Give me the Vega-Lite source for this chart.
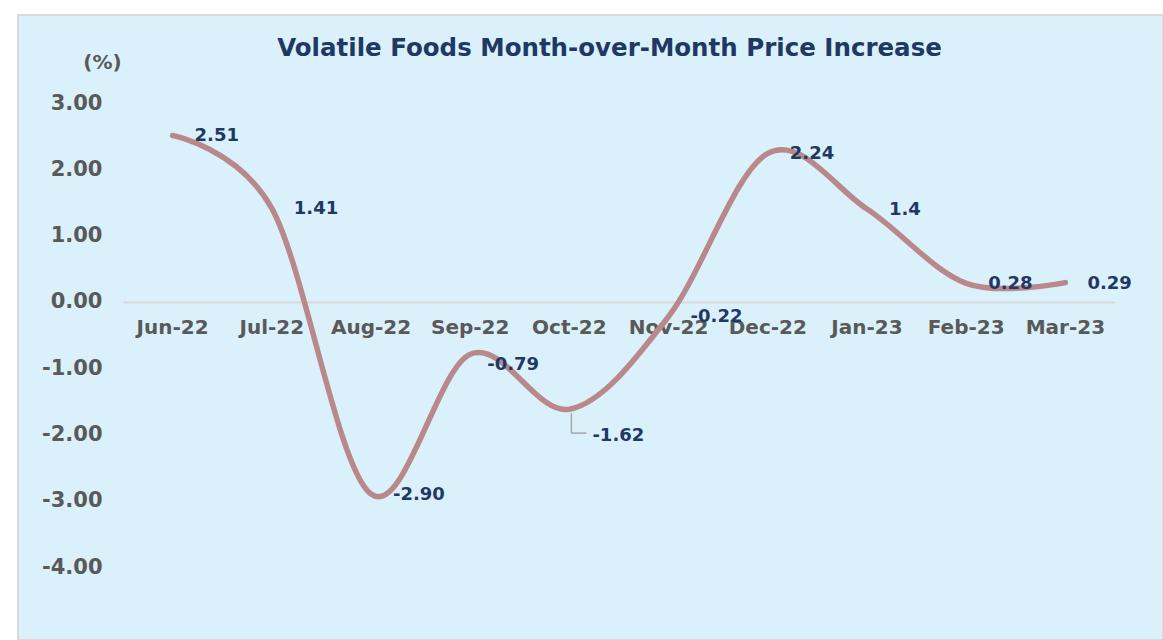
{
  "$schema": "https://vega.github.io/schema/vega-lite/v6.json",
  "autosize": {"type": "none"},
  "width": 1145,
  "height": 625,
  "padding": {"left": 18, "top": 15, "right": 0, "bottom": 0},
  "background": "#ffffff",
  "config": {
    "view": {"fill": "#daf1fc", "stroke": "#d9d9d9", "strokeWidth": 2},
    "font": "DejaVu Sans"
  },
  "title": {
    "text": "Volatile Foods Month-over-Month Price Increase",
    "font": "DejaVu Sans",
    "fontSize": 24.5,
    "fontWeight": "bold",
    "color": "#1f3864",
    "anchor": "middle",
    "offset": 0,
    "baseline": "alphabetic",
    "dy": 65,
    "dx": 19
  },
  "data": {
    "values": [
      {"month": "Jun-22", "value": 2.51, "label": "2.51"},
      {"month": "Jul-22", "value": 1.41, "label": "1.41"},
      {"month": "Aug-22", "value": -2.90, "label": "-2.90"},
      {"month": "Sep-22", "value": -0.79, "label": "-0.79"},
      {"month": "Oct-22", "value": -1.62, "label": "-1.62"},
      {"month": "Nov-22", "value": -0.22, "label": "-0.22"},
      {"month": "Dec-22", "value": 2.24, "label": "2.24"},
      {"month": "Jan-23", "value": 1.40, "label": "1.4"},
      {"month": "Feb-23", "value": 0.28, "label": "0.28"},
      {"month": "Mar-23", "value": 0.29, "label": "0.29"}
    ]
  },
  "encoding": {
    "x": {
      "field": "month",
      "type": "ordinal",
      "sort": null,
      "scale": {"type": "band", "range": [105, 1097], "paddingInner": 0, "paddingOuter": 0},
      "axis": {
        "title": null,
        "orient": "bottom",
        "offset": -338,
        "labelAngle": 0,
        "ticks": false,
        "domainColor": "#d9d9d9",
        "domainWidth": 2,
        "labelPadding": 15,
        "labelFont": "DejaVu Sans",
        "labelFontSize": 20,
        "labelFontWeight": "bold",
        "labelColor": "#595959"
      }
    },
    "y": {
      "field": "value",
      "type": "quantitative",
      "scale": {"domain": [-4, 3], "range": [552, 88], "nice": false, "zero": false},
      "axis": {
        "title": "(%)",
        "titleAngle": 0,
        "titleFont": "DejaVu Sans",
        "titleFontSize": 20,
        "titleFontWeight": "bold",
        "titleColor": "#595959",
        "titleAlign": "center",
        "titleBaseline": "middle",
        "titleX": 0,
        "titleY": 47,
        "orient": "left",
        "offset": -84,
        "domain": false,
        "ticks": false,
        "grid": false,
        "labelPadding": 0,
        "values": [-4, -3, -2, -1, 0, 1, 2, 3],
        "labelExpr": "replace(format(datum.value, '.2f'), '\u2212', '-')",
        "labelFont": "DejaVu Sans",
        "labelFontSize": 21,
        "labelFontWeight": "bold",
        "labelColor": "#595959"
      }
    }
  },
  "layer": [
    {
      "mark": {"type": "line", "interpolate": "cardinal", "tension": 0, "color": "#b9888a", "strokeWidth": 5.5, "strokeCap": "round"}
    },
    {
      "transform": [{"filter": "datum.month !== 'Oct-22' && datum.month !== 'Sep-22'"}],
      "mark": {"type": "text", "align": "left", "baseline": "middle", "dx": 22, "dy": 1, "font": "DejaVu Sans", "fontSize": 18, "fontWeight": "bold", "color": "#1f3864"},
      "encoding": {"text": {"field": "label"}}
    },
    {
      "transform": [{"filter": "datum.month === 'Sep-22'"}],
      "mark": {"type": "text", "align": "left", "baseline": "middle", "dx": 17, "dy": 11, "font": "DejaVu Sans", "fontSize": 18, "fontWeight": "bold", "color": "#1f3864"},
      "encoding": {"text": {"field": "label"}}
    },
    {
      "transform": [{"filter": "datum.month === 'Oct-22'"}],
      "mark": {"type": "text", "align": "left", "baseline": "middle", "dx": 23, "dy": 27, "font": "DejaVu Sans", "fontSize": 18, "fontWeight": "bold", "color": "#1f3864"},
      "encoding": {"text": {"field": "label"}}
    },
    {
      "transform": [{"filter": "datum.month === 'Oct-22'"}],
      "mark": {"type": "rule", "color": "#a6a6a6", "strokeWidth": 1.5, "xOffset": 2},
      "encoding": {"y": {"datum": -1.68}, "y2": {"datum": -1.98}}
    },
    {
      "transform": [{"filter": "datum.month === 'Oct-22'"}],
      "mark": {"type": "rule", "color": "#a6a6a6", "strokeWidth": 1.5, "xOffset": 2, "x2Offset": 17},
      "encoding": {"x2": {"field": "month"}, "y": {"datum": -1.98}}
    }
  ]
}
